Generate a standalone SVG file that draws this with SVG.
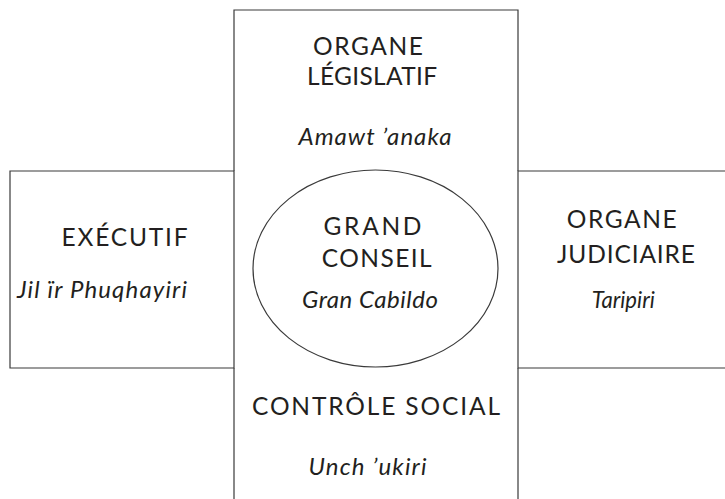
<svg xmlns="http://www.w3.org/2000/svg" width="725" height="499" viewBox="0 0 725 499">
<style>
.ln{fill:none;stroke:#3a3a3a;stroke-width:1.2}
.t{font-family:Lato,"Open Sans","Liberation Sans",sans-serif;font-size:24.5px;fill:#231f20;text-anchor:middle}
.i{font-style:italic;font-size:24px}
</style>
<rect width="725" height="499" fill="#fff"/>
<g id="legislatif">
<path class="ln" d="M234,171 V10 H518 V171"/>
<text class="t" x="368" y="55" textLength="110">ORGANE</text>
<text class="t" x="372" y="85" textLength="130">LÉGISLATIF</text>
<text class="t i" x="375" y="145" textLength="153">Amawt ’anaka</text>
</g>
<g id="executif">
<path class="ln" d="M234,171 H10 V368 H234 Z"/>
<text class="t" x="124.5" y="246" textLength="126">EXÉCUTIF</text>
<text class="t i" x="102" y="298" textLength="170">Jil ïr Phuqhayiri</text>
</g>
<g id="judiciaire">
<path class="ln" d="M725,171 H518 V368 H725"/>
<text class="t" x="621.7" y="228" textLength="110">ORGANE</text>
<text class="t" x="626" y="263" textLength="138">JUDICIAIRE</text>
<text class="t i" x="623.3" y="308" textLength="63" lengthAdjust="spacingAndGlyphs">Taripiri</text>
</g>
<g id="controle">
<path class="ln" d="M234,368 V499 M518,368 V499"/>
<text class="t" x="376" y="415" textLength="248">CONTRÔLE SOCIAL</text>
<text class="t i" x="367.5" y="475" textLength="118">Unch ’ukiri</text>
</g>
<g id="grand-conseil">
<ellipse class="ln" cx="375.5" cy="268.5" rx="122.5" ry="98.5"/>
<text class="t" x="372.5" y="235" textLength="98">GRAND</text>
<text class="t" x="376.7" y="267" textLength="110">CONSEIL</text>
<text class="t i" x="370" y="308" textLength="136">Gran Cabildo</text>
</g>
<g id="connectors"></g>
</svg>
